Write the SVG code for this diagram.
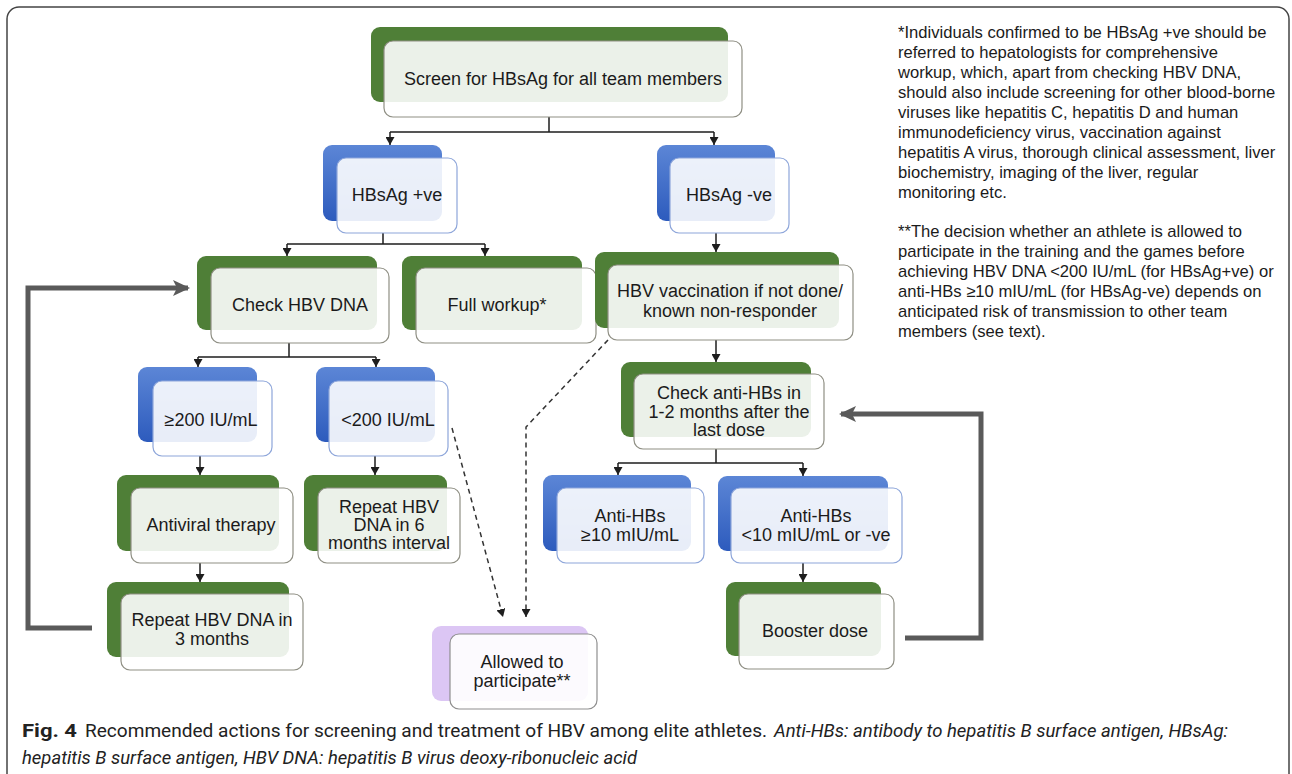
<svg xmlns="http://www.w3.org/2000/svg" width="1292" height="774" viewBox="0 0 1292 774">
<defs>
<linearGradient id="bg" x1="0" y1="0" x2="0" y2="1">
<stop offset="0" stop-color="#5c86d6"/>
<stop offset="1" stop-color="#2d5bbd"/>
</linearGradient>
<marker id="ah" markerUnits="userSpaceOnUse" markerWidth="9" markerHeight="9" refX="8" refY="4.5" orient="auto">
<path d="M0,0 L8,4.5 L0,9 z" fill="#1e1e1e"/>
</marker>
<marker id="big" markerUnits="userSpaceOnUse" markerWidth="18" markerHeight="18" refX="15" refY="9" orient="auto">
<path d="M0,1 L17,9 L0,17 L4,9 z" fill="#5a5a5a"/>
</marker>
<style>
.g{fill:#4f7f37}
.b{fill:url(#bg)}
.p{fill:#dcc6f4}
.fg{fill:#ffffff;fill-opacity:0.89;stroke:#8f8f84;stroke-width:1.2}
.fb{fill:#ffffff;fill-opacity:0.89;stroke:#8ea6da;stroke-width:1.2}
.fp{fill:#ffffff;fill-opacity:0.9;stroke:#8f8f8f;stroke-width:1.2}
.t{font-family:"Liberation Sans",Arial,sans-serif;font-size:18px;fill:#1b1b1b;text-anchor:middle}
.n{font-family:"Liberation Sans",Arial,sans-serif;font-size:16.6px;fill:#1b1b1b}
.c{stroke:#1e1e1e;stroke-width:1.5;fill:none}
.d{stroke:#333;stroke-width:1.5;fill:none;stroke-dasharray:5 4}
.fb2{stroke:#5a5a5a;stroke-width:5;fill:none}
.cap{font-family:Roboto,"Liberation Sans",sans-serif;font-size:18px;fill:#222}
</style>
</defs>
<rect width="1292" height="774" fill="#ffffff"/>
<path d="M7,774 V19 A12,12 0 0 1 19,7 H1277 A12,12 0 0 1 1289,19 V774" fill="none" stroke="#444" stroke-width="1.5"/>

<g id="connectors">
<path class="c" d="M549,117 V132 M390,132 H714"/>
<path class="c" d="M390,132 V145" marker-end="url(#ah)"/>
<path class="c" d="M714,132 V145" marker-end="url(#ah)"/>
<path class="c" d="M383,233 V244 M287,244 H485"/>
<path class="c" d="M287,244 V256" marker-end="url(#ah)"/>
<path class="c" d="M485,244 V256" marker-end="url(#ah)"/>
<path class="c" d="M716,233 V252" marker-end="url(#ah)"/>
<path class="c" d="M289,343 V357 M198,357 H376"/>
<path class="c" d="M198,357 V367" marker-end="url(#ah)"/>
<path class="c" d="M376,357 V367" marker-end="url(#ah)"/>
<path class="c" d="M716,340 V362" marker-end="url(#ah)"/>
<path class="c" d="M716,449 V463 M618,463 H803"/>
<path class="c" d="M618,463 V475" marker-end="url(#ah)"/>
<path class="c" d="M803,463 V476" marker-end="url(#ah)"/>
<path class="c" d="M200,456 V475" marker-end="url(#ah)"/>
<path class="c" d="M375,456 V475" marker-end="url(#ah)"/>
<path class="c" d="M200,563 V582" marker-end="url(#ah)"/>
<path class="c" d="M803,563 V582" marker-end="url(#ah)"/>
<path class="d" d="M452,428 L503,617" marker-end="url(#ah)"/>
<path class="d" d="M608,340 L526,427 V617" marker-end="url(#ah)"/>
<path class="fb2" d="M92,628 H28 V288 H188" marker-end="url(#big)"/>
<path class="fb2" d="M905,638 H981 V414 H841" marker-end="url(#big)"/>
</g>

<g id="screen">
<rect class="g" x="371" y="27" width="357" height="75" rx="9"/>
<rect class="fg" x="384" y="41" width="358" height="76" rx="9"/>
<text class="t" x="563" y="85">Screen for HBsAg for all team members</text>
</g>
<g id="hbsag-pos">
<rect class="b" x="323" y="145" width="119" height="76" rx="9"/>
<rect class="fb" x="337" y="158" width="120" height="75" rx="9"/>
<text class="t" x="397" y="201">HBsAg +ve</text>
</g>
<g id="hbsag-neg">
<rect class="b" x="657" y="145" width="118" height="76" rx="9"/>
<rect class="fb" x="670" y="158" width="119" height="75" rx="9"/>
<text class="t" x="729" y="201">HBsAg -ve</text>
</g>
<g id="check-dna">
<rect class="g" x="197" y="256" width="180" height="74" rx="9"/>
<rect class="fg" x="211" y="268" width="178" height="75" rx="9"/>
<text class="t" x="300" y="311">Check HBV DNA</text>
</g>
<g id="full-workup">
<rect class="g" x="402" y="256" width="180" height="74" rx="9"/>
<rect class="fg" x="416" y="268" width="180" height="75" rx="9"/>
<text class="t" x="497" y="311">Full workup*</text>
</g>
<g id="vaccination">
<rect class="g" x="595" y="252" width="244" height="76" rx="9"/>
<rect class="fg" x="608" y="265" width="245" height="75" rx="9"/>
<text class="t" x="730" y="297">HBV vaccination if not done/</text>
<text class="t" x="730" y="317">known non-responder</text>
</g>
<g id="check-anti">
<rect class="g" x="621" y="362" width="190" height="75" rx="9"/>
<rect class="fg" x="634" y="374" width="190" height="75" rx="9"/>
<text class="t" x="729" y="399">Check anti-HBs in</text>
<text class="t" x="729" y="417.5">1-2 months after the</text>
<text class="t" x="729" y="436">last dose</text>
</g>
<g id="anti-ge10">
<rect class="b" x="543" y="475" width="148" height="76" rx="9"/>
<rect class="fb" x="557" y="488" width="147" height="75" rx="9"/>
<text class="t" x="630" y="522">Anti-HBs</text>
<text class="t" x="630" y="541">≥10 mIU/mL</text>
</g>
<g id="anti-lt10">
<rect class="b" x="718" y="476" width="170" height="75" rx="9"/>
<rect class="fb" x="731" y="488" width="171" height="75" rx="9"/>
<text class="t" x="816" y="522">Anti-HBs</text>
<text class="t" x="816" y="541">&lt;10 mIU/mL or -ve</text>
</g>
<g id="booster">
<rect class="g" x="726" y="582" width="155" height="74" rx="9"/>
<rect class="fg" x="739" y="594" width="155" height="75" rx="9"/>
<text class="t" x="815" y="637">Booster dose</text>
</g>
<g id="ge200">
<rect class="b" x="138" y="367" width="119" height="75" rx="9"/>
<rect class="fb" x="153" y="381" width="119" height="75" rx="9"/>
<text class="t" x="211" y="426">≥200 IU/mL</text>
</g>
<g id="lt200">
<rect class="b" x="316" y="367" width="119" height="75" rx="9"/>
<rect class="fb" x="329" y="381" width="119" height="75" rx="9"/>
<text class="t" x="388" y="426">&lt;200 IU/mL</text>
</g>
<g id="antiviral">
<rect class="g" x="117" y="475" width="162" height="76" rx="9"/>
<rect class="fg" x="131" y="488" width="162" height="75" rx="9"/>
<text class="t" x="211" y="531">Antiviral therapy</text>
</g>
<g id="repeat6">
<rect class="g" x="304" y="475" width="143" height="76" rx="9"/>
<rect class="fg" x="318" y="488" width="142" height="75" rx="9"/>
<text class="t" x="389" y="513">Repeat HBV</text>
<text class="t" x="389" y="531">DNA in 6</text>
<text class="t" x="389" y="549">months interval</text>
</g>
<g id="repeat3">
<rect class="g" x="107" y="582" width="182" height="75" rx="9"/>
<rect class="fg" x="121" y="594" width="182" height="76" rx="9"/>
<text class="t" x="212" y="626">Repeat HBV DNA in</text>
<text class="t" x="212" y="645">3 months</text>
</g>
<g id="allowed">
<rect class="p" x="432" y="626" width="156" height="75" rx="9"/>
<rect class="fp" x="450" y="634" width="147" height="75" rx="9"/>
<text class="t" x="522" y="668">Allowed to</text>
<text class="t" x="522" y="687">participate**</text>
</g>

<g id="notes">
<text class="n" x="898" y="38">*Individuals confirmed to be HBsAg +ve should be</text>
<text class="n" x="898" y="58">referred to hepatologists for comprehensive</text>
<text class="n" x="898" y="78">workup, which, apart from checking HBV DNA,</text>
<text class="n" x="898" y="98">should also include screening for other blood-borne</text>
<text class="n" x="898" y="118">viruses like hepatitis C, hepatitis D and human</text>
<text class="n" x="898" y="138">immunodeficiency virus, vaccination against</text>
<text class="n" x="898" y="158">hepatitis A virus, thorough clinical assessment, liver</text>
<text class="n" x="898" y="178">biochemistry, imaging of the liver, regular</text>
<text class="n" x="898" y="198">monitoring etc.</text>
<text class="n" x="898" y="237">**The decision whether an athlete is allowed to</text>
<text class="n" x="898" y="257">participate in the training and the games before</text>
<text class="n" x="898" y="277">achieving HBV DNA &lt;200 IU/mL (for HBsAg+ve) or</text>
<text class="n" x="898" y="297">anti-HBs ≥10 mIU/mL (for HBsAg-ve) depends on</text>
<text class="n" x="898" y="317">anticipated risk of transmission to other team</text>
<text class="n" x="898" y="337">members (see text).</text>
</g>

<g id="caption">
<text class="cap" x="22" y="737" font-weight="bold" textLength="55" lengthAdjust="spacingAndGlyphs">Fig. 4</text>
<text class="cap" x="85" y="737" textLength="682" lengthAdjust="spacingAndGlyphs">Recommended actions for screening and treatment of HBV among elite athletes.</text>
<text class="cap" x="774" y="737" font-style="italic" textLength="454" lengthAdjust="spacingAndGlyphs">Anti-HBs: antibody to hepatitis B surface antigen, HBsAg:</text>
<text class="cap" x="22" y="764" font-style="italic" textLength="615" lengthAdjust="spacingAndGlyphs">hepatitis B surface antigen, HBV DNA: hepatitis B virus deoxy-ribonucleic acid</text>
</g>
</svg>
